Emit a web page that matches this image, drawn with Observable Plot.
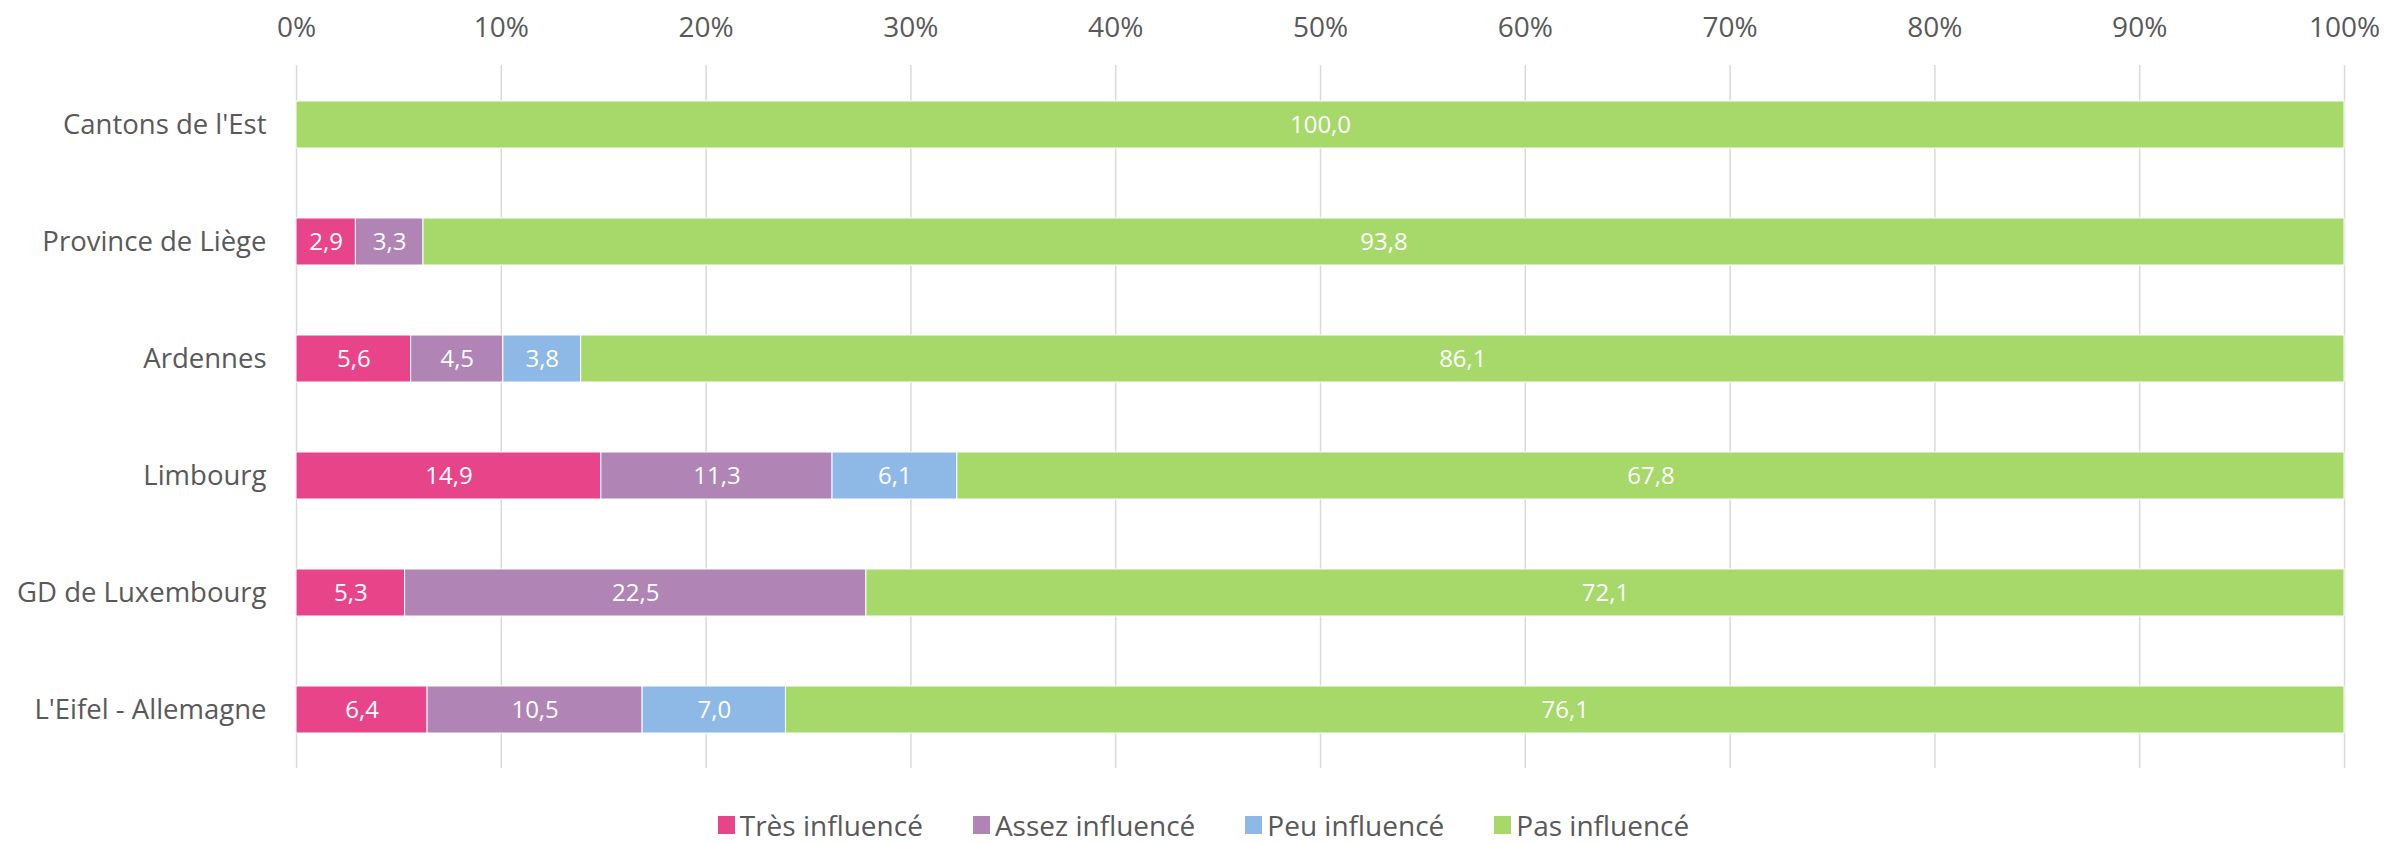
<!DOCTYPE html>
<html>
<head>
<meta charset="utf-8">
<script src="https://cdn.jsdelivr.net/npm/d3@7"></script>
<script src="https://cdn.jsdelivr.net/npm/@observablehq/plot@0.6"></script>
<style>
  html, body { margin: 0; padding: 0; background: #fff; }
  body { width: 2407px; height: 843px; overflow: hidden; font-family: "Open Sans", sans-serif; }
  #legend { display: flex; justify-content: center; align-items: center; height: 36px; margin-top: 17px; gap: 50px; color: #595959; font-size: 28px; }
  #legend .item { display: flex; align-items: center; gap: 5px; }
  #legend .sw { width: 17px; height: 18px; display: inline-block; }
</style>
</head>
<body>
<div id="chart"></div>
<div id="legend"></div>
<script>
const categories = ["Cantons de l'Est", "Province de Liège", "Ardennes", "Limbourg", "GD de Luxembourg", "L'Eifel - Allemagne"];
const series = ["Très influencé", "Assez influencé", "Peu influencé", "Pas influencé"];
const tres  = [0, 2.9, 5.6, 14.9, 5.3, 6.4];
const assez = [0, 3.3, 4.5, 11.3, 22.5, 10.5];
const peu   = [0, 0, 3.8, 6.1, 0, 7.0];
const pas   = [100, 93.8, 86.1, 67.8, 72.1, 76.1];
const colors = ["#E8448A", "#B084B4", "#8EB8E6", "#A7D86A"];
const xTicks = [0, 0.1, 0.2, 0.3, 0.4, 0.5, 0.6, 0.7, 0.8, 0.9, 1];

const valuesBySeries = [tres, assez, peu, pas];
const data = [];
series.forEach((s, si) => {
  categories.forEach((c, ci) => {
    const v = valuesBySeries[si][ci];
    if (v > 0) data.push({cat: c, series: s, value: v});
  });
});

const fmt = v => v.toFixed(1).replace(".", ",");

const chart = Plot.plot({
  width: 2407,
  height: 790,
  marginTop: 65,
  marginBottom: 22,
  marginLeft: 296,
  marginRight: 63,
  style: {fontFamily: "'Open Sans', sans-serif", color: "#595959", background: "#fff"},
  x: {domain: [0, 1], axis: null},
  y: {domain: categories, paddingInner: 0.6, paddingOuter: 0.3, axis: null},
  color: {domain: series, range: colors},
  marks: [
    Plot.ruleX(xTicks, {stroke: "#D9D9D9", strokeWidth: 1.5}),
    Plot.axisX(xTicks, {anchor: "top", tickSize: 0, tickPadding: 29, tickFormat: d => Math.round(d * 100) + "%", fontSize: 28, fill: "#595959", label: null}),
    Plot.axisY({tickSize: 0, tickPadding: 30, fontSize: 27.5, fill: "#595959", label: null}),
    Plot.barX(data, Plot.stackX({x: "value", y: "cat", z: "series", fill: "series", offset: "normalize", stroke: "#fff", strokeWidth: 1})),
    Plot.text(data, Plot.stackX({x: "value", y: "cat", z: "series", offset: "normalize", text: d => fmt(d.value), fill: "#fff", fontSize: 24}))
  ]
});
document.getElementById("chart").appendChild(chart);

const legend = document.getElementById("legend");
series.forEach((s, i) => {
  const item = document.createElement("div");
  item.className = "item";
  const sw = document.createElement("span");
  sw.className = "sw";
  sw.style.background = colors[i];
  const t = document.createElement("span");
  t.textContent = s;
  item.appendChild(sw);
  item.appendChild(t);
  legend.appendChild(item);
});
</script>
</body>
</html>
